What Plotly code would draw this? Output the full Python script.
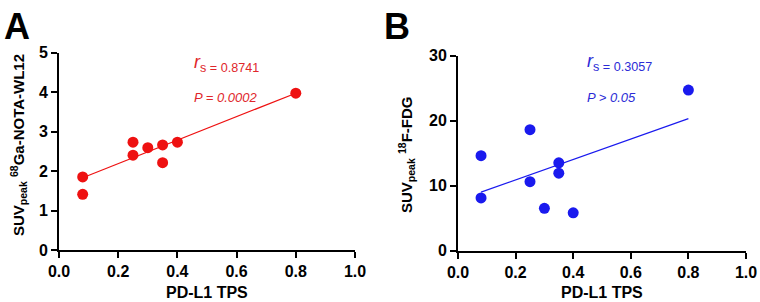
import plotly.graph_objects as go

# ---- data ----
tps_a = [0.08, 0.08, 0.25, 0.25, 0.30, 0.35, 0.35, 0.40, 0.80]
suv_a = [1.85, 1.41, 2.73, 2.40, 2.59, 2.66, 2.21, 2.73, 3.97]
fit_a_x = [0.08, 0.80]
fit_a_y = [1.83, 3.97]

tps_b = [0.08, 0.08, 0.25, 0.25, 0.30, 0.35, 0.35, 0.40, 0.80]
suv_b = [14.6, 8.1, 18.6, 10.6, 6.5, 13.5, 11.9, 5.8, 24.7]
fit_b_x = [0.08, 0.80]
fit_b_y = [8.98, 20.3]

x_ticks = [0.0, 0.2, 0.4, 0.6, 0.8, 1.0]
y_ticks_a = [0, 1, 2, 3, 4, 5]
y_ticks_b = [0, 10, 20, 30]

RED = "#ee1111"
RED_TXT = "#e0262b"
BLUE = "#1a1aee"
BLUE_TXT = "#2b2bd6"
FONT = "Liberation Sans, Arial, sans-serif"

fig = go.Figure()
fig.add_trace(go.Scatter(x=fit_a_x, y=fit_a_y, mode="lines", line=dict(color=RED, width=1.2),
                         xaxis="x", yaxis="y", showlegend=False, hoverinfo="skip"))
fig.add_trace(go.Scatter(x=tps_a, y=suv_a, mode="markers", marker=dict(color=RED, size=11),
                         xaxis="x", yaxis="y", showlegend=False))
fig.add_trace(go.Scatter(x=fit_b_x, y=fit_b_y, mode="lines", line=dict(color=BLUE, width=1.2),
                         xaxis="x2", yaxis="y2", showlegend=False, hoverinfo="skip"))
fig.add_trace(go.Scatter(x=tps_b, y=suv_b, mode="markers", marker=dict(color=BLUE, size=11),
                         xaxis="x2", yaxis="y2", showlegend=False))

axis_common = dict(showline=True, linecolor="black", linewidth=2, ticks="outside", ticklen=6,
                   tickwidth=2, tickcolor="black", showgrid=False, zeroline=False,
                   automargin=False,
                   tickfont=dict(family=FONT, size=16, color="black", weight="bold"))

W, H = 760, 302
def px_x(p): return p / W
def px_y(p): return (H - p) / H

fig.update_layout(
    width=W, height=H, autosize=False, margin=dict(l=0, r=0, t=0, b=0, pad=0),
    paper_bgcolor="white", plot_bgcolor="white",
    font=dict(family=FONT, color="black"),
    xaxis=dict(domain=[px_x(59), px_x(355)], range=[0, 1.0], tickvals=x_ticks, tickformat=".1f",
               anchor="y", **axis_common),
    yaxis=dict(domain=[px_y(250), px_y(52.5)], range=[0, 5], tickvals=y_ticks_a,
               anchor="x", **axis_common),
    xaxis2=dict(domain=[px_x(458), px_x(746)], range=[0, 1.0], tickvals=x_ticks, tickformat=".1f",
                anchor="y2", **axis_common),
    yaxis2=dict(domain=[px_y(250.5), px_y(55.7)], range=[0, 30], tickvals=y_ticks_b,
                anchor="x2", **axis_common),
)

annos = [
    # panel letters
    dict(x=px_x(2), y=px_y(4), xref="paper", yref="paper", xanchor="left", yanchor="top",
         text="<b>A</b>", font=dict(size=36, color="black", family=FONT)),
    dict(x=px_x(382), y=px_y(4), xref="paper", yref="paper", xanchor="left", yanchor="top",
         text="<b>B</b>", font=dict(size=36, color="black", family=FONT)),
    # x titles
    dict(x=px_x(207), y=px_y(292), xref="paper", yref="paper", xanchor="center", yanchor="middle",
         text="<b>PD-L1 TPS</b>", font=dict(size=16, color="black", family=FONT)),
    dict(x=px_x(602), y=px_y(292), xref="paper", yref="paper", xanchor="center", yanchor="middle",
         text="<b>PD-L1 TPS</b>", font=dict(size=16, color="black", family=FONT)),
    # y titles
    dict(x=px_x(18), y=px_y(145), xref="paper", yref="paper", xanchor="center", yanchor="middle",
         textangle=-90, text="<b>SUV<sub>peak</sub> <sup>68</sup>Ga-NOTA-WL12</b>",
         font=dict(size=15, color="black", family=FONT)),
    dict(x=px_x(406), y=px_y(155), xref="paper", yref="paper", xanchor="center", yanchor="middle",
         textangle=-90, text="<b>SUV<sub>peak</sub> <sup>18</sup>F-FDG</b>",
         font=dict(size=15, color="black", family=FONT)),
    # stats
    dict(x=0.45, y=4.73, xref="x", yref="y", xanchor="left", yanchor="middle",
         text="<i>r</i><sub>s = 0.8741</sub>", font=dict(size=18, color=RED_TXT, family=FONT)),
    dict(x=0.45, y=3.87, xref="x", yref="y", xanchor="left", yanchor="middle",
         text="<i>P = 0.0002</i>", font=dict(size=13, color=RED_TXT, family=FONT)),
    dict(x=0.44, y=28.9, xref="x2", yref="y2", xanchor="left", yanchor="middle",
         text="<i>r</i><sub>s = 0.3057</sub>", font=dict(size=18, color=BLUE_TXT, family=FONT)),
    dict(x=0.44, y=23.5, xref="x2", yref="y2", xanchor="left", yanchor="middle",
         text="<i>P &gt; 0.05</i>", font=dict(size=13, color=BLUE_TXT, family=FONT)),
]
for a in annos:
    a["showarrow"] = False
fig.update_layout(annotations=annos)

fig.write_html("out.html", config={"displayModeBar": False},
               post_script="document.body.style.margin='0';")
